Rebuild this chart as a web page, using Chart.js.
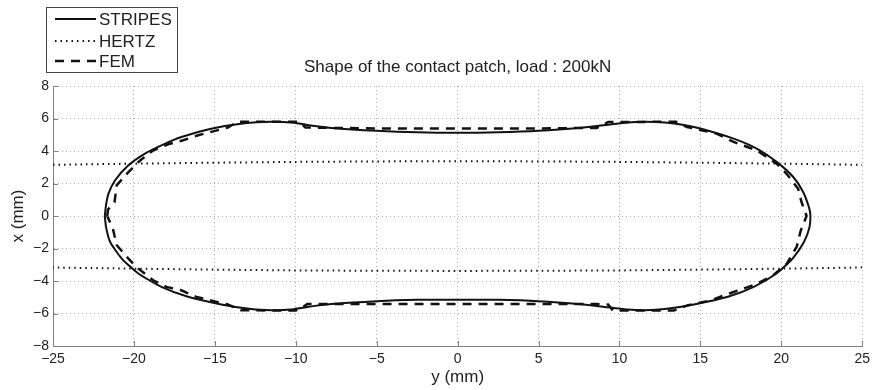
<!DOCTYPE html>
<html>
<head>
<meta charset="utf-8">
<title>Shape of the contact patch</title>
<script src="https://cdn.jsdelivr.net/npm/chart.js@4/dist/chart.umd.min.js"></script>
<style>
  html, body { margin: 0; padding: 0; background: #fff; }
  #patch { display: block; }
</style>
</head>
<body>
<canvas id="patch" width="875" height="390"></canvas>
<script>
// contact patch outlines, lateral position y (mm) against longitudinal x (mm)
// upper edge left to right, then lower edge right to left
const stripesY = [
  -21.8, -21.72, -21.57, -21.16, -20.34, -19.32, -18.3, -17.07, -15.23, -13.18, -11.54, -10.1, -9.3, -7.8, -5.0, -2.5, 0,
  2.5, 5.0, 7.6, 9.3, 10.5, 11.6, 12.8, 13.9, 15.0, 17.05, 18.48, 19.71, 20.74, 21.35, 21.72, 21.8,
  21.74, 21.4, 20.7, 19.7, 18.3, 16.7, 14.6, 12.8, 11.6, 10.5, 9.3, 7.6, 5.0, 2.5, 0,
  -2.5, -5.0, -7.8, -9.3, -10.3, -11.5, -12.76, -14.6, -16.66, -18.3, -19.73, -20.75, -21.47, -21.72, -21.8
];
const stripesX = [
  0, 0.7, 1.38, 2.2, 3.12, 3.84, 4.35, 4.86, 5.37, 5.71, 5.8, 5.74, 5.6, 5.42, 5.24, 5.15, 5.12,
  5.15, 5.24, 5.43, 5.62, 5.76, 5.8, 5.75, 5.62, 5.38, 4.76, 4.15, 3.33, 2.4, 1.48, 0.5, 0,
  -0.7, -1.6, -2.62, -3.54, -4.36, -4.97, -5.44, -5.73, -5.8, -5.76, -5.62, -5.43, -5.24, -5.16, -5.15,
  -5.16, -5.24, -5.42, -5.6, -5.76, -5.8, -5.73, -5.44, -4.97, -4.36, -3.54, -2.62, -1.6, -0.7, 0
];

// Hertz ellipse, upper and lower branches (null breaks the line between them)
const hertzY = [-25, -20, -15, -10, -5, 0, 5, 10, 15, 20, 25, 25, 25, 20, 15, 10, 5, 0, -5, -10, -15, -20, -25];
const hertzX = [3.15, 3.22, 3.28, 3.33, 3.36, 3.37, 3.36, 3.33, 3.28, 3.22, 3.15, null,
  -3.17, -3.24, -3.3, -3.35, -3.37, -3.38, -3.37, -3.35, -3.3, -3.24, -3.17];

const femY = [
  -21.65, -21.6, -21.2, -21.06, -20.34, -19.6, -18.8, -17.77, -16.96, -16.03, -14.2, -13.6, -9.8, -9.4, -7.5, -5, 0,
  5, 8.6, 9.3, 13.5, 14.17, 16.0, 17.05, 18.48, 19.71, 20.33, 21.04, 21.25, 21.56,
  21.2, 20.95, 20.33, 19.5, 18.5, 17.05, 15.6, 14.2, 13.35, 9.6, 9.3, 8.6, 5, 0,
  -5, -9.3, -9.4, -10.0, -13.38, -14.2, -16.14, -17.07, -17.99, -18.8, -19.73, -20.34, -21.06, -21.3, -21.65
];
const femX = [
  0, 0.4, 0.85, 1.9, 2.7, 3.43, 4.04, 4.45, 4.66, 4.97, 5.44, 5.8, 5.8, 5.45, 5.42, 5.39, 5.39,
  5.39, 5.42, 5.78, 5.8, 5.48, 5.07, 4.56, 4.04, 3.22, 2.6, 1.68, 0.86, 0,
  -0.9, -1.9, -2.95, -3.65, -4.17, -4.68, -5.2, -5.5, -5.82, -5.82, -5.45, -5.42, -5.42, -5.42,
  -5.42, -5.42, -5.5, -5.82, -5.8, -5.45, -4.98, -4.57, -4.36, -3.96, -3.24, -2.62, -1.8, -0.78, 0
];

const yTicks = [-25, -20, -15, -10, -5, 0, 5, 10, 15, 20, 25];
const xTicks = [-8, -6, -4, -2, 0, 2, 4, 6, 8];

const FONT = "'Liberation Sans', Arial, sans-serif";
const INK = "#111";
const AXIS = "#808080";

function toPoints(ys, xs) {
  return ys.map((y, i) => ({ x: y, y: xs[i] }));
}

function minus(v) {
  return String(v).replace("-", "\u2212");
}

// title, boxed legend and inward tick marks, MATLAB style
const decorations = {
  id: "decorations",
  afterDraw(chart) {
    const ctx = chart.ctx;
    const area = chart.chartArea;
    const sx = chart.scales.x;
    const sy = chart.scales.y;

    ctx.save();
    ctx.strokeStyle = AXIS;
    ctx.lineWidth = 1;
    ctx.beginPath();
    yTicks.forEach(v => {
      const px = Math.round(sx.getPixelForValue(v)) + 0.5;
      ctx.moveTo(px, area.bottom);
      ctx.lineTo(px, area.bottom - 5);
    });
    xTicks.forEach(v => {
      const py = Math.round(sy.getPixelForValue(v)) + 0.5;
      ctx.moveTo(area.left, py);
      ctx.lineTo(area.left + 5, py);
    });
    ctx.stroke();

    ctx.fillStyle = "#222";
    ctx.font = "17px " + FONT;
    ctx.textAlign = "center";
    ctx.textBaseline = "middle";
    ctx.fillText("Shape of the contact patch, load : 200kN", (area.left + area.right) / 2, 67);

    ctx.fillStyle = "#fff";
    ctx.fillRect(46.5, 7.5, 131, 65);
    ctx.strokeStyle = "#444";
    ctx.strokeRect(46.5, 7.5, 131, 65);

    const rows = [19, 41, 61];
    ctx.font = "17px " + FONT;
    ctx.textAlign = "left";
    chart.data.datasets.forEach((ds, i) => {
      ctx.strokeStyle = ds.borderColor;
      ctx.lineWidth = ds.borderWidth;
      ctx.setLineDash(ds.borderDash || []);
      ctx.beginPath();
      ctx.moveTo(55, rows[i]);
      ctx.lineTo(96, rows[i]);
      ctx.stroke();
      ctx.setLineDash([]);
      ctx.fillStyle = "#222";
      ctx.fillText(ds.label, 99, rows[i] + 1);
    });
    ctx.restore();
  }
};

new Chart(document.getElementById("patch"), {
  type: "scatter",
  data: {
    datasets: [
      {
        label: "STRIPES",
        data: toPoints(stripesY, stripesX),
        showLine: true,
        borderColor: INK,
        borderWidth: 2,
        tension: 0.2,
        pointRadius: 0
      },
      {
        label: "HERTZ",
        data: toPoints(hertzY, hertzX),
        showLine: true,
        spanGaps: false,
        borderColor: INK,
        borderWidth: 2,
        borderDash: [1.5, 4],
        pointRadius: 0
      },
      {
        label: "FEM",
        data: toPoints(femY, femX),
        showLine: true,
        borderColor: INK,
        borderWidth: 2.5,
        borderDash: [9, 7],
        pointRadius: 0
      }
    ]
  },
  options: {
    responsive: false,
    animation: false,
    layout: { padding: { top: 86, right: 9, left: 0, bottom: 0 } },
    plugins: {
      legend: { display: false },
      tooltip: { enabled: false }
    },
    scales: {
      x: {
        type: "linear",
        min: -25,
        max: 25,
        afterFit: scale => { scale.height = 44; },
        afterBuildTicks: scale => { scale.ticks = yTicks.map(v => ({ value: v })); },
        ticks: {
          color: "#222",
          font: { family: FONT, size: 14 },
          padding: 5,
          maxRotation: 0,
          callback: v => minus(v)
        },
        grid: { color: "#aaa", drawTicks: false },
        border: { color: AXIS, width: 1, dash: [1, 3] },
        title: {
          display: true,
          text: "y (mm)",
          color: "#222",
          font: { family: FONT, size: 17 },
          padding: { top: 0, bottom: 2 }
        }
      },
      y: {
        type: "linear",
        min: -8,
        max: 8,
        afterFit: scale => { scale.width = 53; },
        afterBuildTicks: scale => { scale.ticks = xTicks.map(v => ({ value: v })); },
        ticks: {
          color: "#222",
          font: { family: FONT, size: 14 },
          padding: 4,
          callback: v => minus(v)
        },
        grid: { color: "#aaa", drawTicks: false },
        border: { color: AXIS, width: 1, dash: [1, 3] },
        title: {
          display: true,
          text: "x (mm)",
          color: "#222",
          font: { family: FONT, size: 17 },
          padding: { top: 8, bottom: 0 }
        }
      }
    }
  },
  plugins: [decorations]
});
</script>
</body>
</html>
